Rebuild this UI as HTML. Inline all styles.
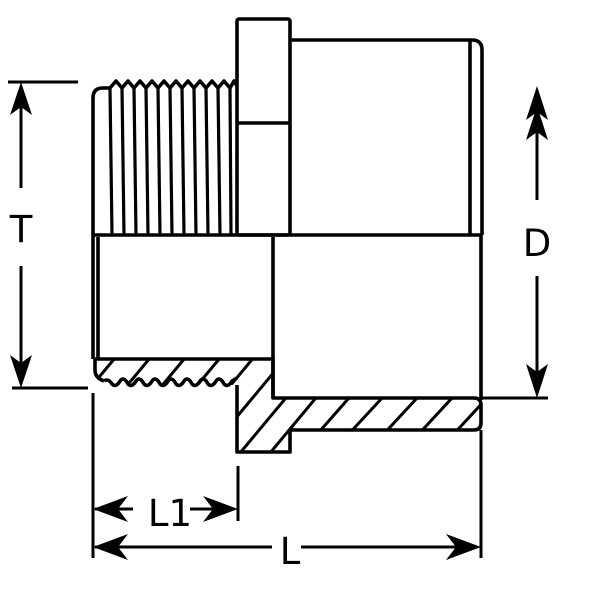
<!DOCTYPE html>
<html><head><style>html,body{margin:0;padding:0;background:#fff}svg{display:block}</style></head><body>
<svg width="600" height="600" viewBox="0 0 600 600" xmlns="http://www.w3.org/2000/svg">
<defs>
<clipPath id="sec"><path d="M95,359 H273 V398 H474 Q481,398 481,405 V423 Q481,430 474,430 H290 V452 H237 V385 L115,383 L104,381 Q95,378 95,370 Z"/></clipPath>
</defs>
<g fill="none" stroke="#000" stroke-width="3.6" stroke-linejoin="round">
<!-- hex collar -->
<rect x="237" y="19" width="53" height="216" rx="2"/>
<line x1="237" y1="123" x2="290" y2="123"/>
<!-- right body -->
<path d="M290,40 H472 Q482,40 482,50 V235"/>
<line x1="470" y1="40" x2="470" y2="235"/>
<!-- thread body -->
<path d="M93,235 V98 Q93,88 103,88 H110"/>
<path d="M110,88 L116,81 L122,88 L128,81 L134,88 L140,81 L146,88 L152,81 L158,88 L164,81 L170,88 L176,81 L182,88 L188,81 L194,88 L200,81 L206,88 L212,81 L218,88 L224,81 L230,88 L234,81 L237,86"/>
<g stroke-width="3.2">
<line x1="110" y1="88" x2="112" y2="235"/>
<line x1="122" y1="88" x2="124" y2="235"/>
<line x1="134" y1="88" x2="136" y2="235"/>
<line x1="146" y1="88" x2="148" y2="235"/>
<line x1="158" y1="88" x2="160" y2="235"/>
<line x1="170" y1="88" x2="172" y2="235"/>
<line x1="182" y1="88" x2="184" y2="235"/>
<line x1="194" y1="88" x2="196" y2="235"/>
<line x1="206" y1="88" x2="208" y2="235"/>
<line x1="218" y1="88" x2="220" y2="235"/>
<line x1="230" y1="88" x2="231" y2="235"/>
</g>
<line x1="93" y1="235" x2="482" y2="235"/>
<!-- inner bores -->
<line x1="93" y1="235" x2="93" y2="359"/>
<line x1="98" y1="237" x2="98" y2="359"/>
<line x1="273" y1="237" x2="273" y2="398"/>
<line x1="481" y1="235" x2="481" y2="400"/>
<!-- section -->
<g clip-path="url(#sec)" stroke-width="3">
<line x1="80" y1="400" x2="130" y2="340"/>
<line x1="115" y1="400" x2="165" y2="340"/>
<line x1="150" y1="400" x2="200" y2="340"/>
<line x1="185" y1="400" x2="235" y2="340"/>
<line x1="210" y1="410" x2="275" y2="332"/>
<line x1="230" y1="425" x2="290" y2="353"/>
<line x1="230" y1="465" x2="320" y2="357"/>
<line x1="260" y1="465" x2="350" y2="357"/>
<line x1="290" y1="465" x2="385" y2="357"/>
<line x1="320" y1="465" x2="420" y2="357"/>
<line x1="355" y1="465" x2="455" y2="357"/>
<line x1="390" y1="465" x2="490" y2="357"/>
<line x1="425" y1="465" x2="525" y2="357"/>
</g>
<path d="M95,359 H273 V398 H474 Q481,398 481,405 V423 Q481,430 474,430 H290 V452 H237 V385"/>
<path d="M95,359 V370 Q95,378 104,381"/>
<path d="M104,381 Q108,378 112,384 Q116,388 120,381 Q124,376 128,384 Q132,388 136,381 Q140,376 144,384 Q148,388 152,381 Q156,376 160,384 Q164,388 168,381 Q172,376 176,384 Q180,388 184,381 Q188,376 192,384 Q196,388 200,381 Q204,376 208,384 Q212,388 216,381 Q220,376 224,384 Q228,388 232,381 L237,378"/>
<!-- dimensions -->
<g stroke-width="3">
<line x1="8" y1="82" x2="78" y2="82"/>
<line x1="12" y1="388" x2="88" y2="388"/>
<line x1="21" y1="90" x2="21" y2="188"/>
<line x1="21" y1="266" x2="21" y2="380"/>
<line x1="537" y1="95" x2="537" y2="200"/>
<line x1="537" y1="276" x2="537" y2="390"/>
<line x1="482" y1="398" x2="548" y2="398"/>
<line x1="93" y1="393" x2="93" y2="558"/>
<line x1="238" y1="466" x2="238" y2="521"/>
<line x1="481" y1="430" x2="481" y2="558"/>
<line x1="95" y1="509" x2="133" y2="509"/>
<line x1="190" y1="509" x2="230" y2="509"/>
<line x1="95" y1="547" x2="272" y2="547"/>
<line x1="301" y1="547" x2="475" y2="547"/>
</g>
</g>
<g fill="#000">
<path d="M21,82 L10,115 L21,107 L32,115 Z"/>
<path d="M21,388 L10,355 L21,363 L32,355 Z"/>
<path d="M537,86 L526,120 L537,112 L548,120 Z"/>
<path d="M537,106 L526,140 L537,132 L548,140 Z"/>
<path d="M537,398 L526,364 L537,372 L548,364 Z"/>
<path d="M93,509 L128,496 L118,509 L128,522 Z"/>
<path d="M238,509 L203,496 L213,509 L203,522 Z"/>
<path d="M93,547 L128,534 L118,547 L128,560 Z"/>
<path d="M481,547 L446,534 L456,547 L446,560 Z"/>
</g>
<g font-family="'DejaVu Sans','Liberation Sans',sans-serif" font-size="37" fill="#000" text-anchor="middle">
<text x="21" y="242">T</text>
<text x="537" y="256">D</text>
<text x="170" y="526">L1</text>
<text x="290" y="564">L</text>
</g>
</svg>
</body></html>
